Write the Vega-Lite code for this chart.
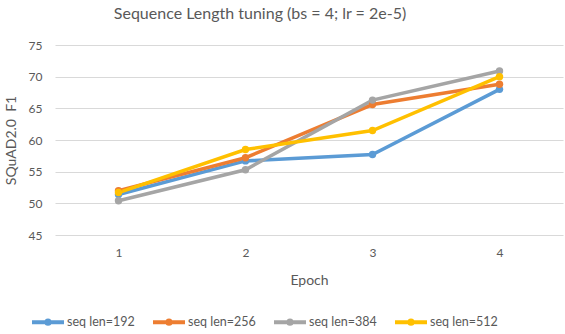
{
  "$schema": "https://vega.github.io/schema/vega-lite/v6.json",
  "width": 508,
  "height": 190,
  "autosize": {"type": "none"},
  "padding": {"left": 55, "top": 45, "right": 2, "bottom": 99},
  "background": "white",
  "config": {
    "font": "Lato",
    "view": {"stroke": null},
    "axis": {"labelColor": "#595959", "titleColor": "#595959", "labelFont": "Lato", "titleFont": "Lato", "titleFontWeight": "normal"}
  },
  "title": {
    "text": "Sequence Length tuning (bs = 4; lr = 2e-5)",
    "font": "Lato",
    "fontSize": 16,
    "fontWeight": "normal",
    "color": "#595959",
    "anchor": "middle",
    "dx": -49,
    "offset": 17
  },
  "data": {
    "values": [
      {"epoch": "1", "series": "seq len=192", "f1": 51.4},
      {"epoch": "2", "series": "seq len=192", "f1": 56.7},
      {"epoch": "3", "series": "seq len=192", "f1": 57.7},
      {"epoch": "4", "series": "seq len=192", "f1": 68.0},
      {"epoch": "1", "series": "seq len=256", "f1": 52.0},
      {"epoch": "2", "series": "seq len=256", "f1": 57.2},
      {"epoch": "3", "series": "seq len=256", "f1": 65.6},
      {"epoch": "4", "series": "seq len=256", "f1": 68.8},
      {"epoch": "1", "series": "seq len=384", "f1": 50.4},
      {"epoch": "2", "series": "seq len=384", "f1": 55.3},
      {"epoch": "3", "series": "seq len=384", "f1": 66.3},
      {"epoch": "4", "series": "seq len=384", "f1": 70.9},
      {"epoch": "1", "series": "seq len=512", "f1": 51.7},
      {"epoch": "2", "series": "seq len=512", "f1": 58.5},
      {"epoch": "3", "series": "seq len=512", "f1": 61.5},
      {"epoch": "4", "series": "seq len=512", "f1": 70.0}
    ]
  },
  "mark": {"type": "line", "strokeWidth": 3.5, "point": {"filled": true, "size": 55}},
  "encoding": {
    "x": {
      "field": "epoch",
      "type": "ordinal",
      "scale": {"type": "point", "padding": 0.5},
      "axis": {"title": "Epoch", "labelAngle": 0, "domain": false, "ticks": false, "grid": false, "labelFontSize": 12, "labelPadding": 12, "titleFontSize": 14, "titlePadding": 15}
    },
    "y": {
      "field": "f1",
      "type": "quantitative",
      "scale": {"domain": [45, 75], "nice": false, "zero": false},
      "axis": {"title": "SQuAD2.0\u00a0 F1", "values": [45, 50, 55, 60, 65, 70, 75], "domain": false, "ticks": false, "grid": true, "gridColor": "#d9d9d9", "gridWidth": 1, "labelFontSize": 12, "labelPadding": 13, "titleFontSize": 14, "titlePadding": 10}
    },
    "color": {
      "field": "series",
      "type": "nominal",
      "scale": {"domain": ["seq len=192", "seq len=256", "seq len=384", "seq len=512"], "range": ["#5B9BD5", "#ED7D31", "#A5A5A5", "#FFC000"]},
      "legend": {
        "orient": "none",
        "legendX": -25,
        "legendY": 259,
        "direction": "horizontal",
        "title": null,
        "symbolType": "M -1 0 L 1 0 M 0.1 0 A 0.1 0.1 0 1 1 -0.1 0 A 0.1 0.1 0 1 1 0.1 0",
        "symbolSize": 1024,
        "symbolStrokeWidth": 4,
        "labelFontSize": 12.5,
        "labelColor": "#595959",
        "labelFont": "Lato",
        "labelOffset": 1,
        "columnPadding": 10
      }
    }
  }
}
